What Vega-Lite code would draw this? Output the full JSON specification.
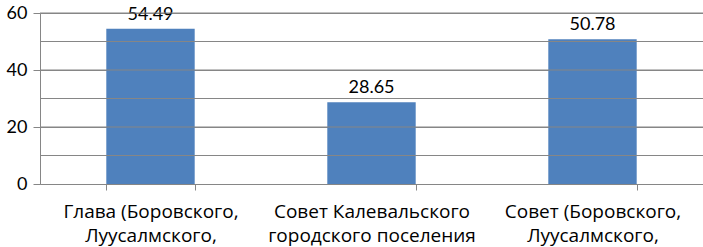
{
  "$schema": "https://vega.github.io/schema/vega-lite/v6.json",
  "width": 663,
  "height": 171,
  "autosize": {"type": "none"},
  "padding": {"left": 40, "top": 13, "right": 0, "bottom": 63},
  "background": "white",
  "datasets": {
    "bars": [
      {"cat": "Глава (Боровского,|Луусалмского,", "value": 54.49},
      {"cat": "Совет Калевальского|городского поселения", "value": 28.65},
      {"cat": "Совет (Боровского,|Луусалмского,", "value": 50.78}
    ],
    "grid": [{"g": 10}, {"g": 20}, {"g": 30}, {"g": 40}, {"g": 50}, {"g": 60}]
  },
  "config": {
    "font": "Lato",
    "view": {"stroke": null}
  },
  "layer": [
    {"data": {"name": "bars"},
     "encoding": {
      "x": {"field": "cat", "type": "nominal", "sort": null,
        "scale": {"paddingInner": 0.6, "paddingOuter": 0.3},
        "axis": {"title": null, "labelAngle": 0, "labelExpr": "split(datum.label, '|')",
          "labelFont": "Open Sans", "labelFontSize": 19, "labelColor": "black", "labelLineHeight": 24, "labelPadding": 21,
          "domainColor": "#868686", "tickColor": "#868686", "tickSize": 6, "tickBand": "extent", "labelBaseline": "middle", "labelLimit": 0}},
      "y": {"field": "value", "type": "quantitative", "title": null,
        "scale": {"domain": [0, 60]},
        "axis": {"values": [0,10,20,30,40,50,60], "labelOverlap": false, "grid": true, "gridColor": "#868686", "gridWidth": 1.2, "labelFontSize": 18, "labelColor": "black",
          "domainColor": "#868686", "tickColor": "#868686", "tickSize": 7, "labelPadding": 6}}
     },
     "layer": [
      {"mark": {"type": "bar", "color": "#4F81BD"}},
      {"mark": {"type": "text", "fontSize": 18, "baseline": "alphabetic", "dy": -9, "color": "black"},
        "encoding": {"text": {"field": "value", "type": "quantitative", "format": ".2f"}}}
     ]
    },
    {"data": {"name": "grid"},
     "mark": {"type": "rule", "color": "#868686", "strokeWidth": 1.2},
     "encoding": {"y": {"field": "g", "type": "quantitative"}}}
  ]
}
